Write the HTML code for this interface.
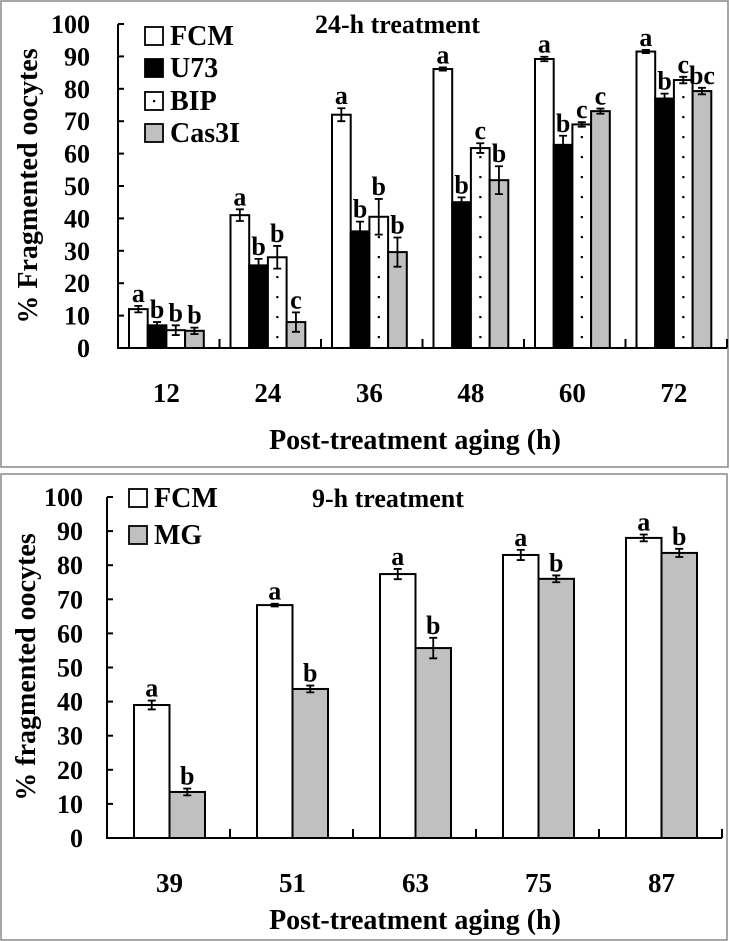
<!DOCTYPE html>
<html><head><meta charset="utf-8"><style>
html,body{margin:0;padding:0;background:#fff;}
svg{display:block;font-family:"Liberation Serif",serif;font-weight:bold;}
</style></head><body>
<svg id="svg" width="730" height="941" viewBox="0 0 730 941">
<rect x="1" y="1" width="727" height="466" fill="none" stroke="#888" stroke-width="1.5"/>
<rect x="1" y="474" width="726" height="466" fill="none" stroke="#888" stroke-width="1.5"/>
<g id="topChart"></g><g id="botChart"></g>
</svg>
<script>
const topCats=["12","24","36","48","60","72"];
const fcm24=[12,41,72,86.1,89.2,91.5];
const fcm24Err=[1,1.8,2,0.5,0.7,0.5];
const u73=[7,25.5,36,45,62.7,77];
const u73Err=[1,2,3,1.5,2.8,1.5];
const bip=[5.5,28,40.5,61.7,69,82.7];
const bipErr=[1.5,3.5,5.5,1.5,0.7,1];
const cas3i=[5.3,8,29.6,51.8,73.1,79.3];
const cas3iErr=[1,3,4.5,4.3,0.8,1];
const topLetters=[["a","b","b","b"],["a","b","b","c"],["a","b","b","b"],["a","b","c","b"],["a","b","c","c"],["a","b","c","bc"]];
const botCats=["39","51","63","75","87"];
const fcm9=[39,68.3,77.4,83,88];
const fcm9Err=[1.3,0.4,1.5,1.5,1];
const mg=[13.5,43.7,55.7,76,83.6];
const mgErr=[1,1,3,1,1.2];
const botLetters=[["a","b"],["a","b"],["a","b"],["a","b"],["a","b"]];
const yTicks=[0,10,20,30,40,50,60,70,80,90,100];

const NS="http://www.w3.org/2000/svg";
function el(parent,tag,attrs,text){const e=document.createElementNS(NS,tag);for(const k in attrs)e.setAttribute(k,attrs[k]);if(text!==undefined)e.textContent=text;parent.appendChild(e);return e;}

function chart(g,o){
  const y=v=>o.y0-v*(o.y0-o.y100)/100;
  const gw=(o.xEnd-o.x0)/o.cats.length;
  const ax=el(g,'path',{d:`M${o.x0} ${o.y100}V${o.y0}H${o.xEnd}`,fill:'none',stroke:'#000','stroke-width':2});
  
  
  yTicks.forEach(t=>{
    const l=el(g,'line',{x1:o.x0,x2:o.x0+6,y1:y(t),y2:y(t),stroke:'#000','stroke-width':2});
    
    
    const tx=el(g,'text',{x:o.x0-o.labOff,y:y(t)+9,'text-anchor':'end','font-size':o.tickFs},String(t));
    
    
  });
  o.cats.forEach((c,i)=>{
    const xs=o.x0+gw*(i+1);
    const l=el(g,'line',{x1:xs,x2:xs,y1:o.y0,y2:o.y0-9,stroke:'#000','stroke-width':2});
    
    
    const bx0=o.x0+gw*i+o.barOff;
    const tx=el(g,'text',{x:bx0+o.bw*o.series.length/2,y:o.labY,'text-anchor':'middle','font-size':o.xFs},c);
    
    
    o.series.forEach((s,j)=>{
      const v=s.vals[i],e=s.err[i],bx=bx0+j*o.bw;
      const r=el(g,'rect',{x:bx,y:y(v),width:o.bw,height:o.y0-y(v),fill:s.fill,stroke:'#000','stroke-width':2});
      
      
      if(s.dots){for(let yy=o.y0-12;yy>y(v)+6;yy-=20){const d=el(g,'rect',{x:bx+o.bw/2-1,y:yy,width:2.2,height:2.2,fill:'#000'});
        
        }}
      const cx=bx+o.bw/2;
      const eb=el(g,'path',{d:`M${cx} ${y(v+e)}V${y(v-e)}M${cx-4} ${y(v+e)}H${cx+4}M${cx-4} ${y(v-e)}H${cx+4}`,stroke:'#000','stroke-width':1.8,fill:'none'});
      
      
      const lt=el(g,'text',{x:cx,y:y(v+e)-4,'text-anchor':'middle','font-size':o.letFs},o.letters[i][j]);
      
      
    });
  });
}
const topG=document.getElementById('topChart'),botG=document.getElementById('botChart');
chart(topG,{x0:118,xEnd:727,y0:348,y100:24,cats:topCats,barOff:11,bw:18.7,labY:402,tickFs:26,xFs:27,letFs:26,labOff:28,letters:topLetters,
 series:[{name:'fcm',vals:fcm24,err:fcm24Err,fill:'#fff'},{name:'u73',vals:u73,err:u73Err,fill:'#000'},{name:'bip',vals:bip,err:bipErr,fill:'#fff',dots:true},{name:'cas3i',vals:cas3i,err:cas3iErr,fill:'#c0c0c0'}]});
chart(botG,{x0:107,xEnd:722,y0:838,y100:497,cats:botCats,barOff:27,bw:35.5,labY:892,tickFs:26,xFs:27,letFs:26,labOff:24,letters:botLetters,
 series:[{name:'fcm',vals:fcm9,err:fcm9Err,fill:'#fff'},{name:'mg',vals:mg,err:mgErr,fill:'#c0c0c0'}]});
</script>
<svg style="position:absolute;left:0;top:0" width="730" height="941" font-family="Liberation Serif, serif" font-weight="bold">
<text x="315" y="33" font-size="26">24-h treatment</text>
<text transform="translate(37,186) rotate(-90)" text-anchor="middle" font-size="28">% Fragmented oocytes</text>
<text x="415" y="449" text-anchor="middle" font-size="28">Post-treatment aging (h)</text>
<g>
<rect x="145" y="27" width="18" height="18" fill="#fff" stroke="#000" stroke-width="1.8"/>
<text x="170" y="45" font-size="28">FCM</text>
<rect x="145" y="59" width="18" height="18" fill="#000" stroke="#000" stroke-width="1.8"/>
<text x="170" y="77" font-size="28">U73</text>
<rect x="145" y="92" width="18" height="18" fill="#fff" stroke="#000" stroke-width="1.8"/>
<rect x="153" y="100" width="2.2" height="2.2" fill="#000"/>
<text x="170" y="110" font-size="28">BIP</text>
<rect x="145" y="124" width="18" height="18" fill="#c0c0c0" stroke="#000" stroke-width="1.8"/>
<text x="170" y="142" font-size="28">Cas3I</text>
</g>
<text x="312" y="507" font-size="26">9-h treatment</text>
<text transform="translate(35,667) rotate(-90)" text-anchor="middle" font-size="28">% fragmented oocytes</text>
<text x="415" y="929" text-anchor="middle" font-size="28">Post-treatment aging (h)</text>
<g>
<rect x="129" y="489" width="18" height="18" fill="#fff" stroke="#000" stroke-width="1.8"/>
<text x="154" y="507" font-size="28">FCM</text>
<rect x="129" y="526" width="18" height="18" fill="#c0c0c0" stroke="#000" stroke-width="1.8"/>
<text x="154" y="544" font-size="28">MG</text>
</g>
</svg>
</body></html>
